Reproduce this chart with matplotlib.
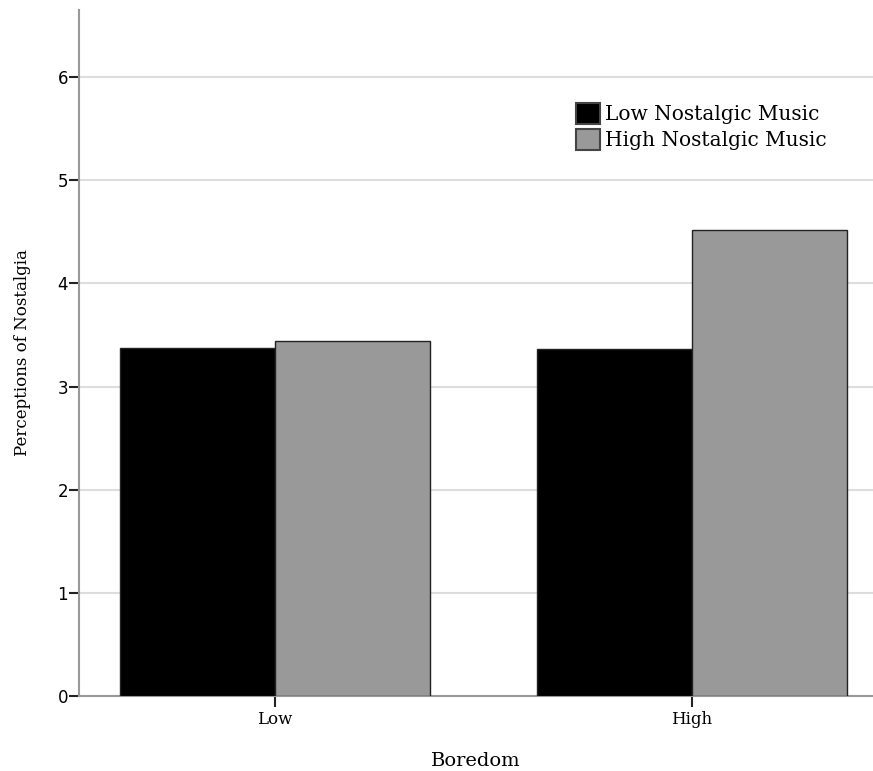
import numpy as np
import matplotlib.pyplot as plt
from matplotlib.patches import Patch

groups = ["Low", "High"]
series = ["Low Nostalgic Music", "High Nostalgic Music"]
low_music = [3.37, 3.36]
high_music = [3.44, 4.52]
colors = ["#000000", "#999999"]
y_ticks = [0, 1, 2, 3, 4, 5, 6]

fig = plt.figure(figsize=(8.73, 7.71), dpi=100)
ax = fig.add_axes([0.0905, 0.0973, 0.9095, 0.8897])

x = np.arange(len(groups))
width = 0.372
for vals, off, c in zip([low_music, high_music], [-width / 2, width / 2], colors):
    ax.bar(x + off, vals, width, color=c, edgecolor="#222222", linewidth=1.0, zorder=3)

ax.set_xlim(-0.47, 1.434)
ax.set_ylim(0, 6.65)
ax.set_yticks(y_ticks)
ax.set_xticks(x)
ax.set_xticklabels(groups, family="DejaVu Serif", fontsize=12)
ax.tick_params(axis="y", labelsize=12, length=7, width=1.5, color="#222222", pad=1)
ax.tick_params(axis="x", length=8, width=1.5, color="#222222", pad=3)
ax.yaxis.grid(True, color="#dddddd", linewidth=1.5, zorder=0)

for s in ["top", "right"]:
    ax.spines[s].set_visible(False)
for s in ["left", "bottom"]:
    ax.spines[s].set_color("#999999")
    ax.spines[s].set_linewidth(1.5)

ax.set_ylabel("Perceptions of Nostalgia", family="DejaVu Serif", fontsize=12)
ax.yaxis.set_label_coords(-0.06, 0.5)
ax.set_xlabel("Boredom", family="DejaVu Serif", fontsize=14)
ax.xaxis.set_label_coords(0.5, -0.082)

handles = [Patch(facecolor=c, edgecolor="#444444", linewidth=1.5) for c in colors]
ax.legend(handles, series, loc="upper left", bbox_to_anchor=(0.626, 0.864),
          frameon=False, prop={"family": "DejaVu Serif", "size": 14.5},
          handlelength=1.2, handleheight=1.19, handletextpad=0.25, labelspacing=0.25,
          borderpad=0, borderaxespad=0)

fig.savefig("out.png", dpi=100)
